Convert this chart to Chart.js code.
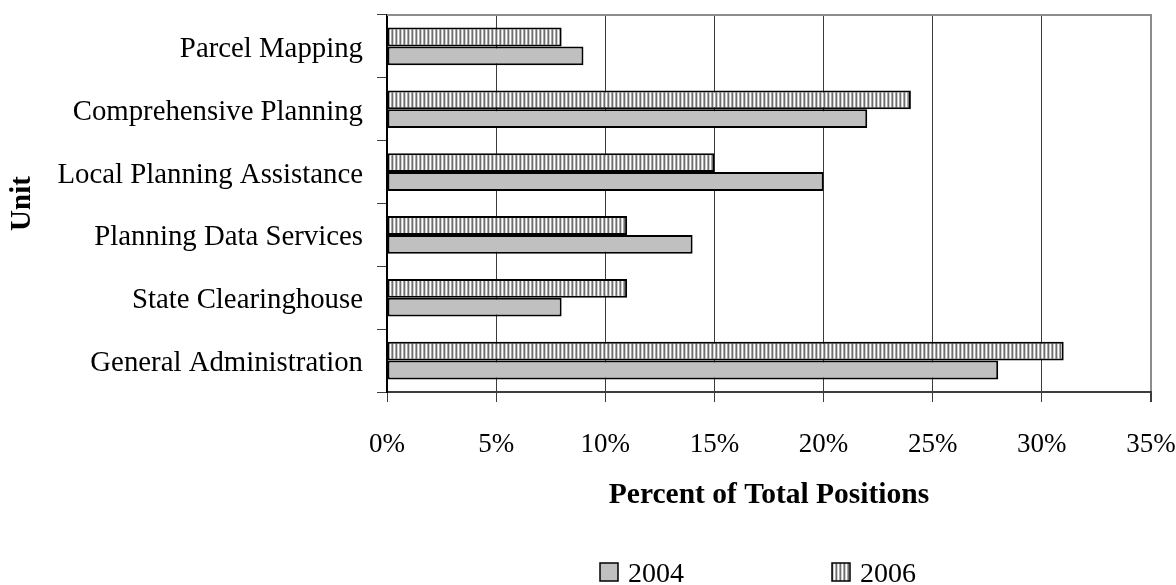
<!DOCTYPE html>
<html>
<head>
<meta charset="utf-8">
<script src="https://cdn.jsdelivr.net/npm/chart.js@4.4.0/dist/chart.umd.min.js"></script>
<style>
  html, body { margin: 0; padding: 0; background: #ffffff; }
  #wrap { width: 1176px; height: 585px; }
</style>
</head>
<body>
<div id="wrap"><canvas id="chart" width="1176" height="585"></canvas></div>
<script>
// Share of total positions by unit, 2004 vs 2006
const units = [
  'Parcel Mapping',
  'Comprehensive Planning',
  'Local Planning Assistance',
  'Planning Data Services',
  'State Clearinghouse',
  'General Administration'
];
const share2004 = [9, 22, 20, 14, 8, 28];
const share2006 = [8, 24, 15, 11, 11, 31];
const percentTicks = ['0%', '5%', '10%', '15%', '20%', '25%', '30%', '35%'];

const SERIF = "'Liberation Serif', 'Times New Roman', serif";
Chart.defaults.font.family = SERIF;
Chart.defaults.color = '#000000';

// Vertical pin-stripe fill used for the 2006 series
function stripeFill() {
  const tile = document.createElement('canvas');
  tile.width = 4; tile.height = 1;
  const g = tile.getContext('2d');
  ['#6e6e6e', '#d0d0d0', '#ffffff', '#a8a8a8'].forEach((c, i) => {
    g.fillStyle = c; g.fillRect(i, 0, 1, 1);
  });
  return g.createPattern(tile, 'repeat');
}

// Grey frame along the top of the plot area
const topFrame = {
  id: 'topFrame',
  afterDraw(chart) {
    const { ctx, chartArea: a } = chart;
    ctx.save();
    ctx.strokeStyle = '#8c8c8c';
    ctx.lineWidth = 2;
    ctx.beginPath();
    ctx.moveTo(a.left, a.top);
    ctx.lineTo(a.right + 1, a.top);
    ctx.stroke();
    ctx.restore();
  }
};

// Legend row under the axis title: 2004 first, then 2006
const bottomLegend = {
  id: 'bottomLegend',
  afterDraw(chart) {
    const { ctx } = chart;
    const order = [1, 0];
    const startX = 600, step = 232, boxTop = 563, box = 18;
    ctx.save();
    ctx.font = '28px ' + SERIF;
    ctx.textBaseline = 'alphabetic';
    ctx.textAlign = 'left';
    order.forEach((di, k) => {
      const ds = chart.data.datasets[di];
      const x = startX + k * step;
      ctx.fillStyle = ds.backgroundColor;
      ctx.fillRect(x, boxTop, box, box);
      ctx.strokeStyle = '#000000';
      ctx.lineWidth = 1.5;
      ctx.strokeRect(x, boxTop, box, box);
      ctx.fillStyle = '#000000';
      ctx.fillText(ds.label, x + box + 10, boxTop + 18.5);
    });
    ctx.restore();
  }
};

// Nudge the unit names a little below the category centre
function lowerLabels(scale, dy) {
  if (scale._lowered) return;
  const compute = scale._computeLabelItems.bind(scale);
  scale._computeLabelItems = (area) => compute(area).map((item) => {
    const t = item.options.translation;
    item.options.translation = [t[0], t[1] + dy];
    return item;
  });
  scale._lowered = true;
}

new Chart(document.getElementById('chart'), {
  type: 'bar',
  data: {
    labels: units,
    datasets: [
      {
        label: '2006',
        data: share2006,
        backgroundColor: stripeFill(),
        borderColor: '#000000',
        borderWidth: 2,
        borderSkipped: false
      },
      {
        label: '2004',
        data: share2004,
        backgroundColor: '#c0c0c0',
        borderColor: '#000000',
        borderWidth: 2,
        borderSkipped: false
      }
    ]
  },
  options: {
    indexAxis: 'y',
    responsive: false,
    animation: false,
    devicePixelRatio: 1,
    layout: { padding: { top: 15, right: 25, bottom: 0, left: 0 } },
    datasets: { bar: { categoryPercentage: 0.6, barPercentage: 1.0 } },
    plugins: {
      legend: { display: false },
      tooltip: { enabled: false }
    },
    scales: {
      x: {
        type: 'linear',
        min: 0,
        max: 35,
        ticks: {
          stepSize: 5,
          padding: 27,
          font: { size: 27 },
          color: '#000000',
          callback: (v, i) => percentTicks[i]
        },
        grid: {
          color: (c) => (c.tick && c.tick.value === 35 ? '#8c8c8c' : '#3c3c3c'),
          lineWidth: (c) => (c.tick && c.tick.value === 35 ? 2 : 1),
          tickColor: '#3c3c3c',
          tickLength: 10,
          drawTicks: true
        },
        border: { display: true, color: '#3c3c3c', width: 2 },
        title: {
          display: true,
          text: 'Percent of Total Positions',
          font: { size: 29.5, weight: 'bold' },
          color: '#000000',
          padding: { top: 0, bottom: 72 }
        },
        afterFit(scale) {
          scale.height = 193;
          scale.paddingLeft = 0;
          scale.paddingRight = 0;
        }
      },
      y: {
        ticks: {
          padding: 14,
          font: { size: 28.8 },
          color: '#000000'
        },
        grid: {
          offset: true,
          drawOnChartArea: false,
          drawTicks: true,
          tickLength: 10,
          tickColor: '#3c3c3c'
        },
        border: { display: true, color: '#000000', width: 2 },
        title: {
          display: true,
          text: 'Unit',
          font: { size: 29, weight: 'bold' },
          color: '#000000',
          padding: { top: 5, bottom: 0 }
        },
        afterFit(scale) {
          scale.width = 387;
          scale.paddingTop = 0;
          scale.paddingBottom = 0;
          lowerLabels(scale, 3);
        }
      }
    }
  },
  plugins: [topFrame, bottomLegend]
});
</script>
</body>
</html>
